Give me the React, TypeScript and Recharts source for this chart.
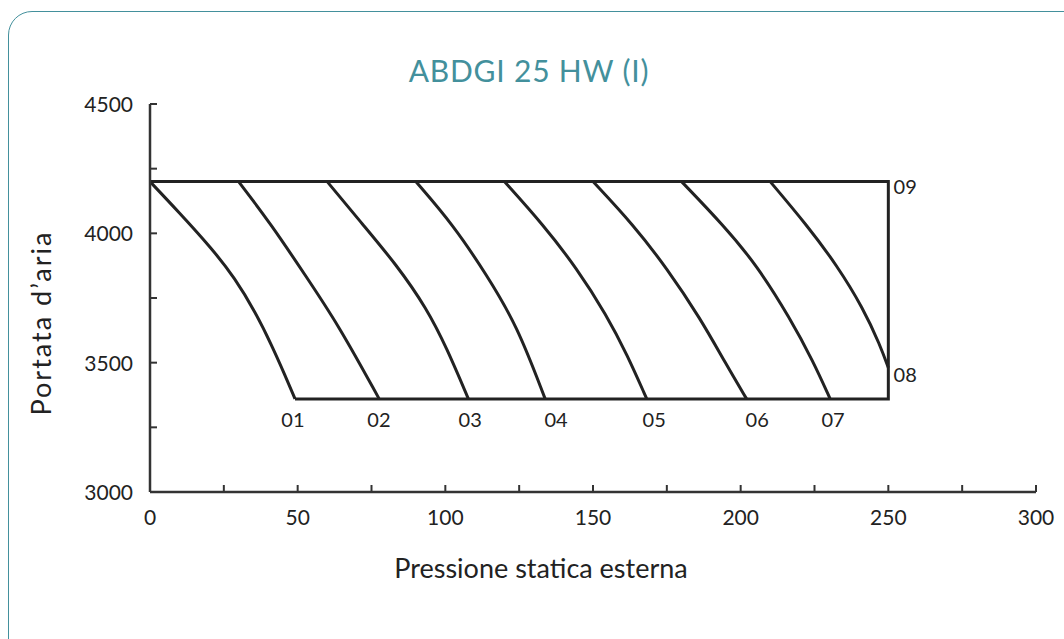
import { ComposedChart, Line, XAxis, YAxis, ReferenceDot } from 'recharts';

// axis ticks
const xTicks = [0, 25, 50, 75, 100, 125, 150, 175, 200, 225, 250, 275, 300];
const yTicks = [3000, 3250, 3500, 3750, 4000, 4250, 4500];

// curves: [pressione, portata]
const curve01 = [[0, 4200], [9.6, 4084], [20.9, 3942], [28.8, 3826], [35.6, 3697], [41.2, 3568], [45.7, 3452], [49.1, 3360]];
const curve02 = [[30, 4200], [41.2, 4032], [52.5, 3839], [63.8, 3646], [77.6, 3360]];
const curve03 = [[60, 4200], [72.2, 4032], [83.5, 3878], [93.7, 3710], [100.5, 3556], [107.8, 3360]];
const curve04 = [[90, 4200], [102.7, 4032], [114, 3839], [124.2, 3646], [133.8, 3360]];
const curve05 = [[120, 4200], [133.2, 4032], [144.5, 3865], [154.6, 3684], [161.6, 3530], [168.2, 3360]];
const curve06 = [[150, 4200], [163.7, 4032], [175, 3865], [186.3, 3672], [195.2, 3491], [202, 3360]];
const curve07 = [[180, 4200], [194.1, 4032], [205.4, 3878], [216.7, 3672], [224.6, 3504], [230.3, 3360]];
const curve08 = [[210, 4200], [222.4, 4032], [232.5, 3878], [241.5, 3710], [247.2, 3568], [250, 3480]];
const frame09 = [[49.1, 3360], [250, 3360], [250, 4200], [0, 4200]];

const curveNames = ['01', '02', '03', '04', '05', '06', '07', '08', '09'];
const labelP = [48.4, 77.5, 108.4, 137.5, 170.7, 205.6, 231.3, 255.7, 255.7];
const labelQ = [3279, 3279, 3279, 3279, 3279, 3279, 3279, 3452, 4179];

const toPts = (arr: number[][]) => arr.map(([p, q]) => ({ p, q }));
const curves = [curve01, curve02, curve03, curve04, curve05, curve06, curve07, curve08].map(toPts);

const ink = '#222';
const teal = '#43909c';
const font = 'Lato, "Noto Sans", sans-serif';

const XTick = (props: any) => {
  const { x, y, payload } = props;
  const v = payload.value;
  return (
    <g>
      {v > 0 && <line x1={x} x2={x} y1={y} y2={y - 7} stroke="#333" strokeWidth={2} />}
      {v % 50 === 0 && (
        <text x={x} y={y + 33} textAnchor="middle" fill={ink} fontSize={21} fontFamily={font}>
          {v}
        </text>
      )}
    </g>
  );
};

const YTick = (props: any) => {
  const { x, y, payload } = props;
  const v = payload.value;
  return (
    <g>
      {v > 3000 && <line x1={x} x2={x + 7} y1={y} y2={y} stroke="#333" strokeWidth={2} />}
      {v % 500 === 0 && (
        <text x={x - 17} y={y + 8} textAnchor="end" fill={ink} fontSize={21} fontFamily={font}>
          {v}
        </text>
      )}
    </g>
  );
};

export default function App() {
  return (
    <div style={{ position: 'absolute', left: 0, top: 0, width: 1064, height: 639, overflow: 'hidden', background: '#fff' }}>
      <div
        style={{
          position: 'absolute',
          left: 8,
          top: 11,
          width: 1120,
          height: 700,
          border: `1.5px solid ${teal}`,
          borderRadius: 24,
        }}
      />
      <div
        style={{
          position: 'absolute',
          left: 0,
          width: 1058,
          top: 52,
          textAlign: 'center',
          color: teal,
          fontFamily: font,
          fontSize: 30,
          letterSpacing: 0.8,
        }}
      >
        ABDGI 25 HW (I)
      </div>
      <div
        style={{
          position: 'absolute',
          left: 40,
          top: 323,
          transform: 'translate(-50%, -50%) rotate(-90deg)',
          whiteSpace: 'nowrap',
          color: ink,
          fontFamily: font,
          fontSize: 27,
          letterSpacing: 2,
        }}
      >
        Portata d’aria
      </div>
      <div
        style={{
          position: 'absolute',
          left: 0,
          width: 1082,
          top: 551,
          textAlign: 'center',
          color: ink,
          fontFamily: font,
          fontSize: 27,
        }}
      >
        Pressione statica esterna
      </div>
      <div style={{ position: 'absolute', left: 0, top: 0 }}>
        <ComposedChart width={1064} height={639} margin={{ top: 104, right: 28, bottom: 146, left: 149 }}>
          <XAxis
            dataKey="p"
            type="number"
            domain={[0, 300]}
            ticks={xTicks}
            interval={0}
            height={1}
            tickSize={0}
            tickMargin={0}
            tickLine={false}
            tick={<XTick />}
            axisLine={{ stroke: '#333', strokeWidth: 2.5 }}
            allowDataOverflow
          />
          <YAxis
            dataKey="q"
            type="number"
            domain={[3000, 4500]}
            ticks={yTicks}
            interval={0}
            width={1}
            tickSize={0}
            tickMargin={0}
            tickLine={false}
            tick={<YTick />}
            axisLine={{ stroke: '#333', strokeWidth: 2.5 }}
            allowDataOverflow
          />
          {curves.map((c, i) => (
            <Line
              key={curveNames[i]}
              data={c}
              dataKey="q"
              type="basis"
              stroke={ink}
              strokeWidth={3}
              dot={false}
              isAnimationActive={false}
            />
          ))}
          <Line
            data={toPts(frame09)}
            dataKey="q"
            type="linear"
            stroke={ink}
            strokeWidth={3}
            dot={false}
            isAnimationActive={false}
          />
          {curveNames.map((n, i) => (
            <ReferenceDot
              key={'l' + n}
              x={labelP[i]}
              y={labelQ[i]}
              r={0}
              fill="none"
              stroke="none"
              label={{ value: n, position: 'center', fill: ink, fontSize: 20, fontFamily: font }}
            />
          ))}
        </ComposedChart>
      </div>
    </div>
  );
}
